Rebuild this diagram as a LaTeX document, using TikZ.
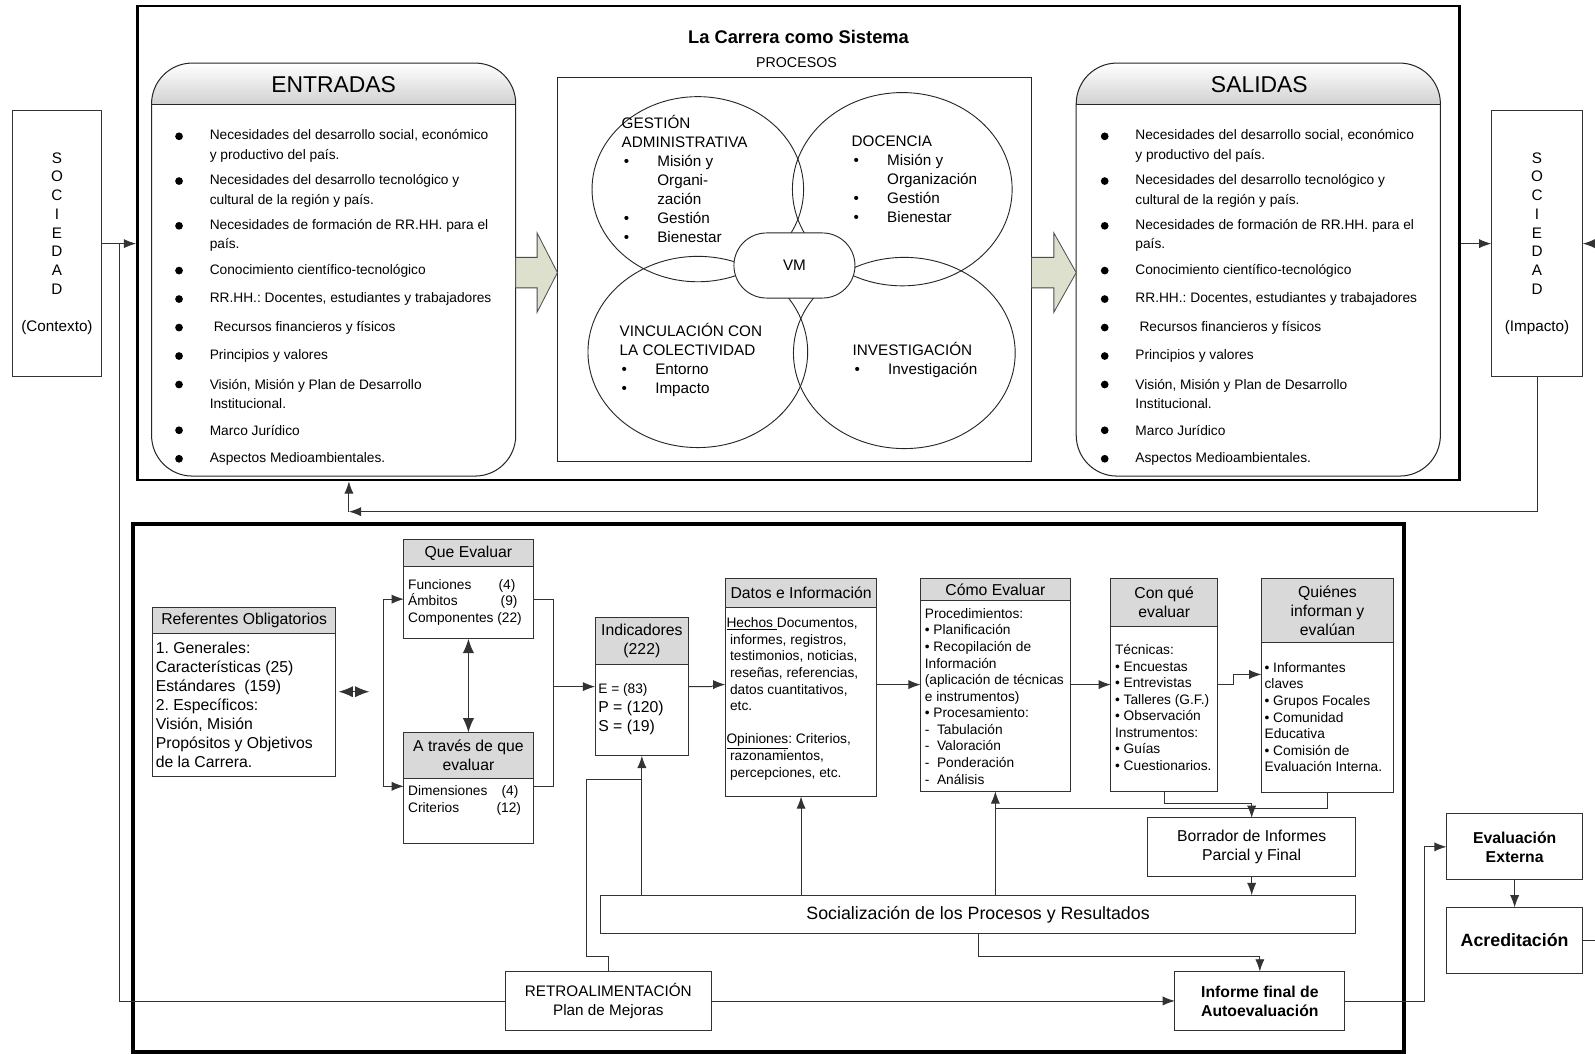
\documentclass[tikz,border=0pt]{standalone}
\usepackage{fontspec}
\setmainfont{Liberation Sans}
\usetikzlibrary{arrows.meta,shapes.geometric}
\frenchspacing

\definecolor{hdgray}{RGB}{217,217,217}
\definecolor{flechacol}{RGB}{221,224,204}

\newcommand{\fsmall}{\fontsize{13.5}{16.3}\selectfont}
\newcommand{\fitem}{\fontsize{13.5}{19}\selectfont}
\newcommand{\fcirc}{\fontsize{15}{18.6}\selectfont}
\newcommand{\fmid}{\fontsize{15}{18.4}\selectfont}
\newcommand{\fmidb}{\fontsize{15.5}{18.7}\selectfont}
\newcommand{\fbig}{\fontsize{17.5}{20}\selectfont}
\newcommand{\blt}{\makebox[35pt][l]{\hspace{2pt}•}}
\newcommand{\ind}{\hspace*{35pt}}

\begin{document}
\begin{tikzpicture}[x=1pt,y=-1pt,
    box/.style={draw=black!80, line width=1pt, fill=white, outer sep=0pt, inner sep=1pt},
    hd/.style={box, fill=hdgray, anchor=north west, align=center, font=\fmidb},
    bd/.style={box, anchor=north west},
    txt/.style={inner sep=0pt, anchor=west, align=left},
    ln/.style={draw=black!80, line width=0.9pt},
    arr/.style={ln, -{Latex[length=12pt,width=9pt]}},
    dblarr/.style={ln, {Latex[length=14pt,width=11pt]}-{Latex[length=14pt,width=11pt]}},
    venn/.style={ellipse, draw=black!85, line width=0.9pt, inner sep=0pt},
    flecha/.style={draw=black!70, line width=0.8pt, fill=flechacol}]
  \path[use as bounding box, fill=white] (0,0) rectangle (1568,1036);

  % la carrera como sistema
  \node[draw, line width=2.5pt, minimum width=1300pt, minimum height=466pt] (sistema) at (785,239) {};
  \node[font=\bfseries\fontsize{18}{20}\selectfont] (titulo) at (785,36) {La Carrera como Sistema};
  \node[font=\fontsize{14}{16}\selectfont] (procesos-t) at (783,62) {PROCESOS};

  % entradas y salidas
  \foreach \bx/\nm in {149/entradas, 1058/salidas}{
    \begin{scope}
      \clip[rounded corners=40pt] (\bx,62) rectangle (\bx+358,468);
      \shade[top color=white, bottom color=black!18] (\bx,62) rectangle (\bx+358,103);
    \end{scope}
    \node[draw=black!85, line width=1pt, rounded corners=40pt, minimum width=358pt, minimum height=406pt] (\nm) at (\bx+179,265) {};
    \draw[line width=1pt, draw=black!85] (\bx,103) -- (\bx+358,103);
  }
  \node[font=\fontsize{22.5}{24}\selectfont] (entradas-t) at (328,83) {ENTRADAS};
  \node[font=\fontsize{22.5}{24}\selectfont] (salidas-t) at (1238,83) {SALIDAS};

  \foreach \bx in {176, 1086}{
    \foreach \by/\ty/\t in {134/143.5/{Necesidades del desarrollo social, económico\\y productivo del país.},
        178/187.5/{Necesidades del desarrollo tecnológico y\\cultural de la región y país.},
        222/231.5/{Necesidades de formación de RR.HH. para el\\país.},
        266/266/{Conocimiento científico-tecnológico},
        294/294/{RR.HH.: Docentes, estudiantes y trabajadores},
        322/322/{\hspace*{4pt}Recursos financieros y físicos},
        350/350/{Principios y valores},
        378/387.5/{Visión, Misión y Plan de Desarrollo\\Institucional.},
        423/423/{Marco Jurídico},
        451/451/{Aspectos Medioambientales.}}{
      \fill (\bx,\by) circle (3.8pt);
      \node[txt, font=\fitem] (it-\bx-\by) at (\bx+30,\ty) {\t};
    }
  }

  % procesos
  \node[draw=black!85, line width=1pt, minimum width=466pt, minimum height=378pt] (procesos) at (781,265) {};
  \node[venn, minimum width=208pt, minimum height=182pt] (gestion) at (686,186) {};
  \node[venn, minimum width=216pt, minimum height=190pt] (docencia) at (887,186) {};
  \node[venn, minimum width=216pt, minimum height=188pt] (vinculacion) at (686,346) {};
  \node[venn, minimum width=218pt, minimum height=188pt] (investigacion) at (889,347) {};
  \node[draw=black!85, line width=0.9pt, fill=white, rounded corners=32pt, minimum width=119pt, minimum height=64pt, font=\fcirc] (vm) at (781,261) {VM};
  \node[txt, font=\fcirc] (gestion-t) at (611,176) {GESTIÓN\\ADMINISTRATIVA\\\blt Misión y\\\ind Organi-\\\ind zación\\\blt Gestión\\\blt Bienestar};
  \node[txt, font=\fcirc] (docencia-t) at (837,176) {DOCENCIA\\\blt Misión y\\\ind Organización\\\blt Gestión\\\blt Bienestar};
  \node[txt, font=\fcirc] (vinculacion-t) at (609,353.5) {VINCULACIÓN CON\\LA COLECTIVIDAD\\\blt Entorno\\\blt Impacto};
  \node[txt, font=\fcirc] (investigacion-t) at (838,353.5) {INVESTIGACIÓN\\\blt Investigación};

  \draw[flecha] (507,253) -- (528,253) -- (528,229) -- (548,268) -- (528,307) -- (528,283) -- (507,283) -- cycle;
  \draw[flecha] (1014,253) -- (1036,253) -- (1036,229) -- (1058,268) -- (1036,307) -- (1036,283) -- (1014,283) -- cycle;

  % sociedad
  \node[box, minimum width=88pt, minimum height=261pt, align=center, font=\fmid, inner sep=0pt] (soc-l) at (56,239.5) {S\\O\\C\\I\\E\\D\\A\\D\\[18.4pt](Contexto)};
  \node[box, minimum width=90pt, minimum height=261pt, align=center, font=\fmid, inner sep=0pt] (soc-r) at (1511,239.5) {S\\O\\C\\I\\E\\D\\A\\D\\[18.4pt](Impacto)};

  % autoevaluacion
  \node[draw, line width=4pt, minimum width=1249pt, minimum height=519pt] (autoeval) at (755.5,774.5) {};

  \node[hd, minimum width=180pt, minimum height=26pt] (ref) at (150,597) {Referentes Obligatorios};
  \node[bd, minimum width=180pt, minimum height=140pt] (ref-b) at (ref.south west) {};
  \node[txt, font=\fmidb] (ref-t) at (153,693) {1. Generales:\\Características (25)\\Estándares\ \ (159)\\2. Específicos:\\Visión, Misión\\Propósitos y Objetivos\\de la Carrera.};

  \node[hd, minimum width=127pt, minimum height=27pt] (que) at (397,530) {Que Evaluar};
  \node[bd, minimum width=127pt, minimum height=71pt] (que-b) at (que.south west) {};
  \node[txt, font=\fsmall] (que-t) at (401,592) {\makebox[89pt][l]{Funciones}(4)\\\makebox[91pt][l]{Ámbitos}(9)\\Componentes (22)};

  \node[hd, minimum width=127pt, minimum height=45pt] (atr) at (397,720) {A través de que\\evaluar};
  \node[bd, minimum width=127pt, minimum height=64pt] (atr-b) at (atr.south west) {};
  \node[txt, font=\fsmall] (atr-t) at (401,787) {\makebox[92pt][l]{Dimensiones}(4)\\\makebox[87pt][l]{Criterios}(12)};

  \node[hd, minimum width=92pt, minimum height=46pt] (ind) at (585,607) {Indicadores\\(222)};
  \node[bd, minimum width=92pt, minimum height=90pt] (ind-b) at (ind.south west) {};
  \node[txt, font=\fmidb] (ind-t) at (588,697) {{\fsmall E = (83)}\\P = (120)\\S = (19)};

  \node[hd, minimum width=149pt, minimum height=28pt] (datos) at (713,569) {Datos e Información};
  \node[bd, minimum width=149pt, minimum height=186pt] (datos-b) at (datos.south west) {};
  \node[txt, font=\fsmall] (datos-t) at (714,687) {\underline{Hechos }Documentos,\\\hspace*{3.5pt}informes, registros,\\\hspace*{3.5pt}testimonios, noticias,\\\hspace*{3.5pt}reseñas, referencias,\\\hspace*{3.5pt}datos cuantitativos,\\\hspace*{3.5pt}etc.\\[16.3pt]\underline{Opiniones}: Criterios,\\\hspace*{3.5pt}razonamientos,\\\hspace*{3.5pt}percepciones, etc.};

  \node[hd, minimum width=147pt, minimum height=21pt] (como) at (905,569) {Cómo Evaluar};
  \node[bd, minimum width=147pt, minimum height=188pt] (como-b) at (como.south west) {};
  \node[txt, font=\fsmall] (como-t) at (909,684.5) {Procedimientos:\\• Planificación\\• Recopilación de\\Información\\(aplicación de técnicas\\e instrumentos)\\• Procesamiento:\\-\ \ Tabulación\\-\ \ Valoración\\-\ \ Ponderación\\-\ \ Análisis};

  \node[hd, minimum width=105pt, minimum height=47pt] (conque) at (1092,569) {Con qué\\evaluar};
  \node[bd, minimum width=105pt, minimum height=162pt] (conque-b) at (conque.south west) {};
  \node[txt, font=\fsmall] (conque-t) at (1096,695.5) {Técnicas:\\• Encuestas\\• Entrevistas\\• Talleres (G.F.)\\• Observación\\Instrumentos:\\• Guías\\• Cuestionarios.};

  \node[hd, minimum width=130pt, minimum height=63pt] (quien) at (1240,569) {Quiénes\\informan y\\evalúan};
  \node[bd, minimum width=130pt, minimum height=147pt] (quien-b) at (quien.south west) {};
  \node[txt, font=\fsmall] (quien-t) at (1243,705) {• Informantes\\claves\\• Grupos Focales\\• Comunidad\\Educativa\\• Comisión de\\Evaluación Interna.};

  \node[box, minimum width=205pt, minimum height=58pt, align=center, font=\fmidb] (borr) at (1230.5,833) {Borrador de Informes\\Parcial y Final};
  \node[box, minimum width=743pt, minimum height=38pt, font=\fbig] (soc) at (961.5,899) {Socialización de los Procesos y Resultados};
  \node[box, minimum width=167pt, minimum height=58pt, align=center, font=\bfseries\fmidb] (inf) at (1238.5,984) {Informe final de\\Autoevaluación};
  \node[box, minimum width=202pt, minimum height=58pt, align=center, font=\fmid] (retro) at (598,984) {RETROALIMENTACIÓN\\Plan de Mejoras};
  \node[box, minimum width=134pt, minimum height=65pt, align=center, font=\bfseries\fmidb] (evext) at (1489,832.5) {Evaluación\\Externa};
  \node[box, minimum width=134pt, minimum height=65pt, font=\bfseries\fbig] (acr) at (1489,924.5) {Acreditación};

  % puntos de paso
  \coordinate (jn) at (117,239.5);
  \coordinate (fb) at (343,503);
  \coordinate (dbl-a) at (333,680);
  \coordinate (dbl-b) at (363,680);
  \coordinate (brl) at (377,680);
  \coordinate (brr) at (544,675);
  \coordinate (f-que) at (0,589);
  \coordinate (f-atr) at (0,773);
  \coordinate (fila) at (0,673);
  \coordinate (fila2) at (0,663);
  \coordinate (f-borr) at (0,795);
  \coordinate (f-retro) at (0,766);

  % conectores
  \draw[arr] (soc-l.east) -- (soc-l.east -| sistema.west);
  \draw[arr] (sistema.east |- soc-r.west) -- (soc-r.west);
  \draw[arr] (soc-r.south) |- (fb);
  \draw[arr] (fb) -- (fb |- sistema.south);
  \draw[ln] (retro.west) -| (jn);
  \draw[dblarr] (dbl-a) -- (dbl-b);
  \draw[arr] (brl) |- (que-b.west |- f-que);
  \draw[arr] (brl) |- (atr-b.west |- f-atr);
  \draw[dblarr] (que-b.south) -- (atr.north);
  \draw[ln] (que-b.east |- f-que) -| (brr) |- (atr-b.east |- f-atr);
  \draw[arr] (brr) -- (ind-b.west |- brr);
  \draw[arr] (ind-b.east |- brr) -- ++(22,0) -- ++(5,-2) -- (datos-b.west |- fila);
  \draw[arr] (datos-b.east |- fila) -- (como-b.west |- fila);
  \draw[arr] (como-b.east |- fila) -- (conque-b.west |- fila);
  \draw[arr] (conque-b.east |- fila) -- ++(16,0) |- (quien-b.west |- fila2);
  \draw[arr] (conque-b.south) -- ++(0,12) -| (borr.north);
  \draw[ln] (quien-b.south) |- (como-b.south |- f-borr);
  \draw[arr] (borr.south) -- (borr.south |- soc.north);
  \draw[arr] (soc.north -| ind-b.south) -- (ind-b.south);
  \draw[arr] (soc.north -| datos-b.south) -- (datos-b.south);
  \draw[arr] (soc.north -| como-b.south) -- (como-b.south);
  \draw[arr] (soc.south) -- ++(0,22) -| (inf.north);
  \draw[ln] (retro.north) -- ++(0,-15) -- ++(-21,0) |- (ind-b.south |- f-retro);
  \draw[arr] (retro.east) -- (inf.west);
  \draw[arr] (inf.east) -- ++(78,0) |- (evext.west);
  \draw[arr] (evext.south) -- (acr.north);
  \draw[arr] (acr.east) -- ++(30,0) |- (soc-r.east);
\end{tikzpicture}
\end{document}
